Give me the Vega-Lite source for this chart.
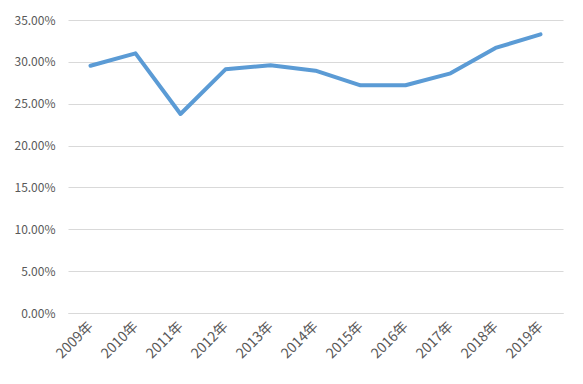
{
  "$schema": "https://vega.github.io/schema/vega-lite/v6.json",
  "width": 495,
  "height": 293,
  "autosize": {"type": "none"},
  "padding": {"left": 68, "top": 20, "right": 20, "bottom": 71},
  "background": "white",
  "config": {"view": {"stroke": null}, "font": "Noto Sans CJK JP"},
  "data": {
    "values": [
      {"year": "2009年", "value": 0.2954},
      {"year": "2010年", "value": 0.3102},
      {"year": "2011年", "value": 0.2377},
      {"year": "2012年", "value": 0.2911},
      {"year": "2013年", "value": 0.2959},
      {"year": "2014年", "value": 0.2895},
      {"year": "2015年", "value": 0.272},
      {"year": "2016年", "value": 0.272},
      {"year": "2017年", "value": 0.2863},
      {"year": "2018年", "value": 0.3166},
      {"year": "2019年", "value": 0.3329}
    ]
  },
  "mark": {"type": "line", "color": "#5b9bd5", "strokeWidth": 4, "strokeCap": "round", "strokeJoin": "round"},
  "encoding": {
    "x": {
      "field": "year",
      "type": "ordinal",
      "sort": null,
      "scale": {"type": "point", "padding": 0.5},
      "axis": {
        "title": null,
        "labelAngle": -45,
        "labelAlign": "right",
        "labelBaseline": "middle",
        "labelFontSize": 14,
        "labelColor": "#595959",
        "labelPadding": 11,
        "ticks": false,
        "domain": true,
        "domainColor": "#d9d9d9",
        "grid": false
      }
    },
    "y": {
      "field": "value",
      "type": "quantitative",
      "scale": {"domain": [0, 0.35], "nice": false},
      "axis": {
        "title": null,
        "format": ".2%",
        "values": [0, 0.05, 0.1, 0.15, 0.2, 0.25, 0.3, 0.35],
        "labelFontSize": 12,
        "labelColor": "#595959",
        "labelPadding": 13,
        "ticks": false,
        "domain": false,
        "grid": true,
        "gridColor": "#d9d9d9",
        "gridWidth": 1
      }
    }
  }
}
